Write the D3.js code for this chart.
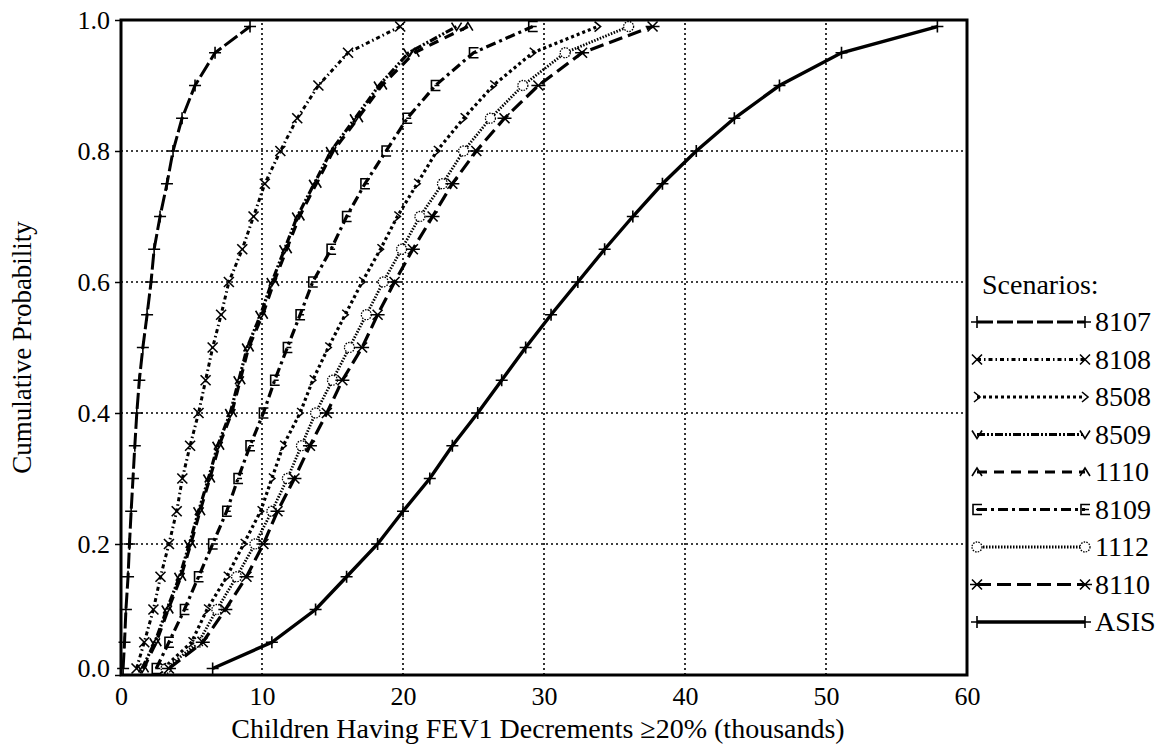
<!DOCTYPE html>
<html>
<head>
<meta charset="utf-8">
<script src="https://cdn.jsdelivr.net/npm/d3@7"></script>
<style>
body { margin: 0; background: #fff; }
</style>
</head>
<body>
<svg id="chart" width="1168" height="749"></svg>
<script>
// cumulative probability levels of every curve
const probs = [0.01, 0.05, 0.10, 0.15, 0.20, 0.25, 0.30, 0.35, 0.40, 0.45, 0.50,
               0.55, 0.60, 0.65, 0.70, 0.75, 0.80, 0.85, 0.90, 0.95, 0.99];

// children (thousands) at each level
const s8107 = [0.15, 0.25, 0.35, 0.5, 0.6, 0.72, 0.85, 0.98, 1.12, 1.3, 1.55, 1.85, 2.13, 2.35, 2.77, 3.26, 3.69, 4.33, 5.25, 6.67, 9.15];
const s8108 = [1.1, 1.65, 2.3, 2.8, 3.4, 3.95, 4.35, 4.9, 5.5, 6.0, 6.5, 7.1, 7.65, 8.6, 9.4, 10.2, 11.3, 12.5, 14.0, 16.1, 19.8];
const s8508 = [3.0, 5.0, 6.1, 7.5, 8.7, 9.9, 10.7, 11.5, 12.7, 13.6, 14.7, 15.9, 17.1, 18.4, 19.6, 21.0, 22.4, 24.3, 26.4, 29.2, 33.8];
const s8509 = [1.5, 2.4, 3.25, 4.15, 4.85, 5.5, 6.2, 6.85, 7.75, 8.35, 8.95, 9.9, 10.7, 11.6, 12.5, 13.7, 14.9, 16.6, 18.3, 20.4, 23.8];
const s1110 = [1.6, 2.5, 3.35, 4.25, 4.95, 5.6, 6.3, 6.95, 7.85, 8.45, 9.05, 10.05, 10.85, 11.75, 12.65, 13.85, 15.05, 16.8, 18.5, 20.8, 24.6];
const s8109 = [2.5, 3.4, 4.5, 5.5, 6.5, 7.5, 8.3, 9.15, 10.1, 10.9, 11.8, 12.7, 13.6, 14.9, 16.0, 17.3, 18.8, 20.3, 22.3, 25.0, 29.2];
const s1112 = [3.2, 5.5, 6.8, 8.2, 9.5, 10.7, 11.8, 12.8, 13.8, 15.0, 16.2, 17.4, 18.6, 19.9, 21.2, 22.8, 24.3, 26.2, 28.5, 31.5, 36.0];
const s8110 = [3.4, 5.8, 7.4, 8.9, 10.1, 11.1, 12.3, 13.4, 14.6, 15.7, 17.1, 18.2, 19.4, 20.7, 22.1, 23.5, 25.2, 27.2, 29.6, 32.7, 37.7];
const sASIS = [6.5, 10.7, 13.8, 16.0, 18.2, 20.0, 21.9, 23.5, 25.3, 27.0, 28.7, 30.5, 32.4, 34.3, 36.3, 38.4, 40.8, 43.5, 46.7, 51.1, 57.9];

const scenarioNames = ["8107", "8108", "8508", "8509", "1110", "8109", "1112", "8110", "ASIS"];
const scenarioValues = [s8107, s8108, s8508, s8509, s1110, s8109, s1112, s8110, sASIS];

const xTicks = [0, 10, 20, 30, 40, 50, 60];
const yTicks = [0.0, 0.2, 0.4, 0.6, 0.8, 1.0];

const FONT = "'Liberation Serif', 'DejaVu Serif', serif";

// line look per scenario
const looks = {
	"8107": { dash: "16,4", width: 3, marker: "plus" },
	"8108": { dash: "4,3,1.5,3", width: 3, marker: "cross" },
	"8508": { dash: "3,3", width: 3.2, marker: "chevron" },
	"8509": { dash: "8,2,2,2,2,2", width: 3.2, marker: "vee" },
	"1110": { dash: "10,7", width: 3.2, marker: "caret" },
	"8109": { dash: "10,4,3,4", width: 3.2, marker: "bracket" },
	"1112": { dash: "1.5,1.5", width: 2.8, marker: "circle" },
	"8110": { dash: "14,6", width: 3.2, marker: "star" },
	"ASIS": { dash: null, width: 3.4, marker: "plus" }
};

const markerPaths = {
	plus: "M-6,0H6M0,-6V6",
	cross: "M-5,-5L5,5M-5,5L5,-5",
	star: "M-5,-5L5,5M-5,5L5,-5M-7,0H7",
	chevron: "M-3,-5L3,0L-3,5",
	vee: "M-5,-4L0,4L5,-4",
	caret: "M-5,4L0,-4L5,4",
	bracket: "M5,-5H-4V5H5M-1,0H4"
};

const svg = d3.select("#chart");
svg.append("rect").attr("width", 1168).attr("height", 749).attr("fill", "#fff");

const margin = { left: 121, right: 967, top: 20, bottom: 675 };
const x = d3.scaleLinear().domain([0, 60]).range([margin.left, margin.right]);
const y = d3.scaleLinear().domain([0, 1]).range([margin.bottom, margin.top]);

// dotted grid
const grid = svg.append("g").attr("class", "grid");
grid.selectAll("line.gx")
	.data(xTicks.slice(1, -1))
	.join("line")
	.attr("x1", d => x(d)).attr("x2", d => x(d))
	.attr("y1", y(0)).attr("y2", y(1));
grid.selectAll("line.gy")
	.data(yTicks.slice(1, -1))
	.join("line")
	.attr("y1", d => y(d)).attr("y2", d => y(d))
	.attr("x1", x(0)).attr("x2", x(60));
grid.selectAll("line")
	.attr("stroke", "#000")
	.attr("stroke-width", 1.6)
	.attr("stroke-dasharray", "2,3");

// axes
const xAxis = svg.append("g")
	.attr("transform", "translate(0," + y(0) + ")")
	.call(d3.axisBottom(x).tickValues(xTicks).tickSize(0).tickPadding(12));
xAxis.select(".domain").remove();
xAxis.selectAll("text").attr("font-size", 26);

const yAxis = svg.append("g")
	.attr("transform", "translate(" + x(0) + ",0)")
	.call(d3.axisLeft(y).tickValues(yTicks).tickSize(6).tickPadding(5).tickFormat(d3.format(".1f")));
yAxis.select(".domain").remove();
yAxis.selectAll("line").attr("stroke-width", 1.5);
yAxis.selectAll("text").attr("font-size", 26);
yAxis.selectAll(".tick").filter(d => d === 0).select("text").attr("y", -7);

// curves
const line = d3.line()
	.x(d => x(d.v))
	.y(d => y(d.p));

scenarioNames.forEach((name, i) => {
	const pts = probs.map((p, j) => ({ p: p, v: scenarioValues[i][j] }));
	const look = looks[name];
	const g = svg.append("g").attr("class", "series s" + name);
	g.append("path")
		.datum(pts)
		.attr("d", line)
		.attr("fill", "none")
		.attr("stroke", "#000")
		.attr("stroke-width", look.width)
		.attr("stroke-dasharray", look.dash);
	drawMarkers(g, pts.map(d => [x(d.v), y(d.p)]), look.marker);
});

function drawMarkers(g, xy, kind) {
	if (kind === "circle") {
		g.selectAll("circle")
			.data(xy)
			.join("circle")
			.attr("cx", d => d[0]).attr("cy", d => d[1]).attr("r", 5)
			.attr("fill", "#fff").attr("stroke", "#000")
			.attr("stroke-width", 1.3).attr("stroke-dasharray", "1.5,1.2");
	} else {
		g.selectAll("path.mk")
			.data(xy)
			.join("path")
			.attr("class", "mk")
			.attr("transform", d => "translate(" + d[0] + "," + d[1] + ")")
			.attr("d", markerPaths[kind])
			.attr("fill", "none").attr("stroke", "#000")
			.attr("stroke-width", 1.6);
	}
}

// frame
svg.append("rect")
	.attr("x", x(0)).attr("y", y(1))
	.attr("width", x(60) - x(0)).attr("height", y(0) - y(1))
	.attr("fill", "none").attr("stroke", "#000").attr("stroke-width", 3);

// titles
svg.append("text")
	.attr("x", (x(0) + x(60)) / 2 - 6).attr("y", 738)
	.attr("text-anchor", "middle").attr("font-size", 28)
	.text("Children Having FEV1 Decrements \u226520% (thousands)");

svg.append("text")
	.attr("transform", "translate(31," + ((y(0) + y(1)) / 2) + ") rotate(-90)")
	.attr("text-anchor", "middle").attr("font-size", 27)
	.text("Cumulative Probability");

// legend
const legend = svg.append("g").attr("transform", "translate(975,0)");
legend.append("text").attr("x", 7).attr("y", 294).attr("font-size", 28).text("Scenarios:");

scenarioNames.forEach((name, i) => {
	const look = looks[name];
	const ly = 322 + i * 37.5;
	const row = legend.append("g");
	row.append("line")
		.attr("x1", 2).attr("x2", 110).attr("y1", ly).attr("y2", ly)
		.attr("stroke", "#000").attr("stroke-width", look.width)
		.attr("stroke-dasharray", look.dash);
	drawMarkers(row, [[2, ly], [110, ly]], look.marker);
	row.append("text").attr("x", 120).attr("y", ly + 9).attr("font-size", 28).text(name);
});

// one serif face for every label
svg.selectAll("text").style("font-family", FONT).attr("fill", "#000");
</script>
</body>
</html>
